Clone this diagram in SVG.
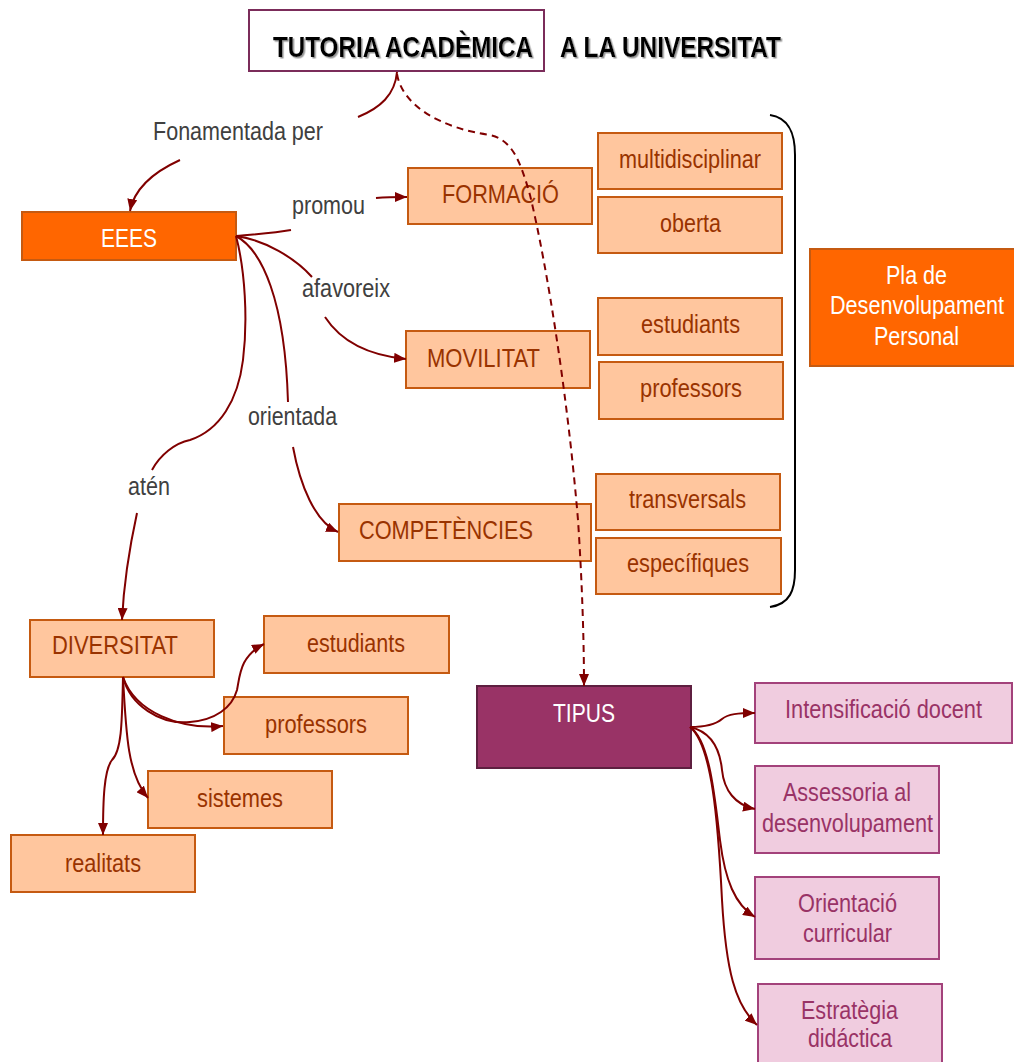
<svg xmlns="http://www.w3.org/2000/svg" width="1014" height="1062" viewBox="0 0 1014 1062">
  <defs>
    <style>
      text { font-family: "Liberation Sans", Arial, sans-serif; font-size: 25px; }
      .peach { fill: #FFC69E; stroke: #C55A11; stroke-width: 2; }
      .orange { fill: #FF6600; stroke: #C55A11; stroke-width: 2; }
      .pink { fill: #F0CCDF; stroke: #A3427B; stroke-width: 2; }
      .plum { fill: #993366; stroke: #5E1F40; stroke-width: 2; }
      .title-box { fill: #FFFFFF; stroke: #7B2C5A; stroke-width: 2; }
      .t-brown { fill: #993300; }
      .t-white { fill: #FFFFFF; }
      .t-plum { fill: #993366; }
      .t-label { fill: #404040; }
      .t-title { fill: #000000; font-weight: bold; font-size: 30px; filter: url(#shadow); }
      .link { fill: none; stroke: #800000; stroke-width: 2; }
      .arrow { marker-end: url(#head); }
      .dashed { stroke-dasharray: 7 5; }
      .brace { fill: none; stroke: #000000; stroke-width: 2; }
    </style>
    <marker id="head" viewBox="0 0 12 10" refX="12" refY="5" markerWidth="12" markerHeight="10" markerUnits="userSpaceOnUse" orient="auto">
      <path d="M0,0 L12,5 L0,10 Z" fill="#800000"/>
    </marker>
    <filter id="shadow" x="-5%" y="-20%" width="110%" height="150%">
      <feDropShadow dx="1.5" dy="1.5" stdDeviation="0.6" flood-color="#8C8C8C" flood-opacity="0.9"/>
    </filter>
  </defs>

  <rect width="1014" height="1062" fill="#FFFFFF"/>

  <!-- brace grouping the qualifier boxes -->
  <path id="brace" class="brace" d="M770,115 C790,118 795,135 795,155 L795,570 C795,590 790,604 770,607"/>

  <!-- link labels -->
  <g id="labels">
    <text class="t-label" x="153" y="140" textLength="170" lengthAdjust="spacingAndGlyphs">Fonamentada per</text>
    <text class="t-label" x="292" y="214" textLength="73" lengthAdjust="spacingAndGlyphs">promou</text>
    <text class="t-label" x="302" y="297" textLength="88" lengthAdjust="spacingAndGlyphs">afavoreix</text>
    <text class="t-label" x="248" y="425" textLength="89" lengthAdjust="spacingAndGlyphs">orientada</text>
    <text class="t-label" x="128" y="495" textLength="42" lengthAdjust="spacingAndGlyphs">atén</text>
  </g>

  <!-- nodes -->
  <g id="node-title">
    <rect class="title-box" x="249" y="10" width="295" height="61"/>
    <text class="t-title" x="273" y="57" textLength="260" lengthAdjust="spacingAndGlyphs">TUTORIA ACADÈMICA</text>
    <text class="t-title" x="560" y="57" textLength="221" lengthAdjust="spacingAndGlyphs">A LA UNIVERSITAT</text>
  </g>

  <g id="node-eees">
    <rect class="orange" x="22" y="212" width="214" height="48"/>
    <text class="t-white" x="101" y="247" textLength="56" lengthAdjust="spacingAndGlyphs">EEES</text>
  </g>

  <g id="node-formacio">
    <rect class="peach" x="408" y="168" width="184" height="56"/>
    <text class="t-brown" x="442" y="203" textLength="117" lengthAdjust="spacingAndGlyphs">FORMACIÓ</text>
  </g>
  <g id="node-multidisciplinar">
    <rect class="peach" x="598" y="133" width="184" height="56"/>
    <text class="t-brown" x="619" y="168" textLength="142" lengthAdjust="spacingAndGlyphs">multidisciplinar</text>
  </g>
  <g id="node-oberta">
    <rect class="peach" x="598" y="197" width="184" height="56"/>
    <text class="t-brown" x="660" y="232" textLength="61" lengthAdjust="spacingAndGlyphs">oberta</text>
  </g>

  <g id="node-movilitat">
    <rect class="peach" x="406" y="331" width="184" height="57"/>
    <text class="t-brown" x="427" y="367" textLength="113" lengthAdjust="spacingAndGlyphs">MOVILITAT</text>
  </g>
  <g id="node-mov-estudiants">
    <rect class="peach" x="598" y="298" width="184" height="57"/>
    <text class="t-brown" x="641" y="333" textLength="99" lengthAdjust="spacingAndGlyphs">estudiants</text>
  </g>
  <g id="node-mov-professors">
    <rect class="peach" x="599" y="362" width="184" height="57"/>
    <text class="t-brown" x="640" y="397" textLength="102" lengthAdjust="spacingAndGlyphs">professors</text>
  </g>

  <g id="node-competencies">
    <rect class="peach" x="339" y="504" width="252" height="57"/>
    <text class="t-brown" x="359" y="539" textLength="174" lengthAdjust="spacingAndGlyphs">COMPETÈNCIES</text>
  </g>
  <g id="node-transversals">
    <rect class="peach" x="596" y="474" width="184" height="56"/>
    <text class="t-brown" x="629" y="508" textLength="117" lengthAdjust="spacingAndGlyphs">transversals</text>
  </g>
  <g id="node-especifiques">
    <rect class="peach" x="596" y="538" width="185" height="56"/>
    <text class="t-brown" x="627" y="572" textLength="122" lengthAdjust="spacingAndGlyphs">específiques</text>
  </g>

  <g id="node-pla">
    <rect class="orange" x="810" y="249" width="210" height="117"/>
    <text class="t-white" x="886" y="284" textLength="61" lengthAdjust="spacingAndGlyphs">Pla de</text>
    <text class="t-white" x="830" y="314" textLength="174" lengthAdjust="spacingAndGlyphs">Desenvolupament</text>
    <text class="t-white" x="874" y="345" textLength="85" lengthAdjust="spacingAndGlyphs">Personal</text>
  </g>

  <g id="node-diversitat">
    <rect class="peach" x="30" y="620" width="184" height="57"/>
    <text class="t-brown" x="52" y="654" textLength="126" lengthAdjust="spacingAndGlyphs">DIVERSITAT</text>
  </g>
  <g id="node-div-estudiants">
    <rect class="peach" x="264" y="616" width="185" height="57"/>
    <text class="t-brown" x="307" y="652" textLength="98" lengthAdjust="spacingAndGlyphs">estudiants</text>
  </g>
  <g id="node-div-professors">
    <rect class="peach" x="224" y="697" width="184" height="57"/>
    <text class="t-brown" x="265" y="733" textLength="102" lengthAdjust="spacingAndGlyphs">professors</text>
  </g>
  <g id="node-sistemes">
    <rect class="peach" x="148" y="771" width="184" height="57"/>
    <text class="t-brown" x="197" y="807" textLength="86" lengthAdjust="spacingAndGlyphs">sistemes</text>
  </g>
  <g id="node-realitats">
    <rect class="peach" x="11" y="835" width="184" height="57"/>
    <text class="t-brown" x="65" y="872" textLength="76" lengthAdjust="spacingAndGlyphs">realitats</text>
  </g>

  <g id="node-tipus">
    <rect class="plum" x="477" y="686" width="214" height="82"/>
    <text class="t-white" x="553" y="722" textLength="62" lengthAdjust="spacingAndGlyphs">TIPUS</text>
  </g>
  <g id="node-intensificacio">
    <rect class="pink" x="755" y="683" width="257" height="60"/>
    <text class="t-plum" x="785" y="718" textLength="197" lengthAdjust="spacingAndGlyphs">Intensificació docent</text>
  </g>
  <g id="node-assessoria">
    <rect class="pink" x="755" y="766" width="184" height="87"/>
    <text class="t-plum" x="783" y="801" textLength="128" lengthAdjust="spacingAndGlyphs">Assessoria al</text>
    <text class="t-plum" x="762" y="832" textLength="171" lengthAdjust="spacingAndGlyphs">desenvolupament</text>
  </g>
  <g id="node-orientacio">
    <rect class="pink" x="755" y="877" width="184" height="82"/>
    <text class="t-plum" x="798" y="912" textLength="99" lengthAdjust="spacingAndGlyphs">Orientació</text>
    <text class="t-plum" x="803" y="942" textLength="89" lengthAdjust="spacingAndGlyphs">curricular</text>
  </g>
  <g id="node-estrategia">
    <rect class="pink" x="758" y="984" width="184" height="84"/>
    <text class="t-plum" x="801" y="1019" textLength="97" lengthAdjust="spacingAndGlyphs">Estratègia</text>
    <text class="t-plum" x="808" y="1047" textLength="84" lengthAdjust="spacingAndGlyphs">didáctica</text>
  </g>

  <!-- connectors, drawn last so the dashed link runs over the boxes it crosses -->
  <g id="connectors">
    <path class="link" d="M397,72 C395,95 380,108 358,117"/>
    <path class="link arrow" d="M180,160 C158,170 135,185 130,211"/>
    <path class="link" d="M236,236 C260,234 275,233 291,230"/>
    <path class="link arrow" d="M376,198 C388,197 396,197 407,197"/>
    <path class="link" d="M236,236 C265,240 295,258 312,277"/>
    <path class="link arrow" d="M325,317 C340,340 365,355 406,359"/>
    <path class="link" d="M236,236 C262,250 285,300 288,402"/>
    <path class="link arrow" d="M293,447 C300,485 315,522 338,532"/>
    <path class="link" d="M236,236 C245,270 248,320 243,360 C238,400 220,430 190,440 C175,443 160,455 152,470"/>
    <path class="link arrow" d="M137,513 C130,545 124,580 122,620"/>
    <path class="link dashed arrow" d="M397,74 C402,105 440,128 490,135 C512,140 520,160 530,195 C548,270 568,400 578,520 C582,580 584,640 584,686"/>

    <path class="link arrow" d="M123,677 C130,705 160,725 190,722 C215,720 232,708 237,690 C240,675 240,656 264,644"/>
    <path class="link arrow" d="M123,677 C135,712 180,730 223,726"/>
    <path class="link arrow" d="M123,677 C126,735 128,775 148,798"/>
    <path class="link arrow" d="M123,677 C122,720 122,750 112,760 C104,770 103,800 103,835"/>

    <path class="link arrow" d="M690,727 C705,727 715,725 722,719 C728,714 738,713 755,713"/>
    <path class="link arrow" d="M690,727 C712,732 720,750 722,770 C724,790 735,805 755,809"/>
    <path class="link arrow" d="M690,727 C710,740 715,800 720,840 C725,880 735,905 755,917"/>
    <path class="link arrow" d="M690,727 C712,745 718,820 722,900 C726,970 735,1005 757,1025"/>
  </g>
</svg>
